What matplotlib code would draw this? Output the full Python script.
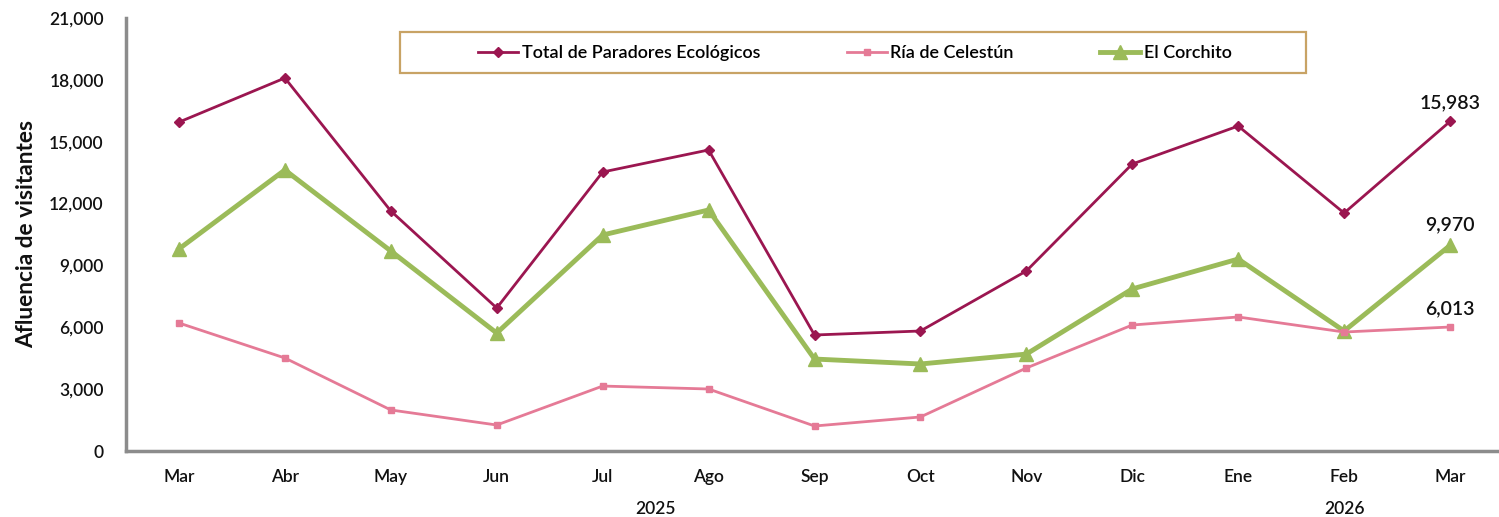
import matplotlib
matplotlib.use("Agg")
import matplotlib.pyplot as plt
from matplotlib.ticker import FuncFormatter, MultipleLocator
from matplotlib.patches import Rectangle

plt.rcParams['font.family'] = ['Lato', 'DejaVu Sans']

months = ["Mar", "Abr", "May", "Jun", "Jul", "Ago", "Sep", "Oct", "Nov", "Dic", "Ene", "Feb", "Mar"]
years = ["2025", "2026"]
total = [15950, 18090, 11640, 6935, 13530, 14600, 5626, 5820, 8730, 13920, 15760, 11540, 15983]
ria = [6208, 4510, 1990, 1260, 3150, 3007, 1212, 1650, 4025, 6110, 6500, 5770, 6013]
corchito = [9800, 13630, 9700, 5720, 10475, 11690, 4460, 4220, 4700, 7860, 9310, 5820, 9970]
series_names = ["Total de Paradores Ecológicos", "Ría de Celestún", "El Corchito"]

c_total = "#9B1650"
c_ria = "#E57A96"
c_cor = "#9BBB59"

fig = plt.figure(figsize=(14.99, 5.17), dpi=100)
W, H = 1499, 517
ax = fig.add_axes([126 / W, 1 - 451 / H, (1503 - 126) / W, (451 - 18) / H])

x = list(range(len(months)))
ax.plot(x, total, color=c_total, lw=2, marker="D", ms=5.5, label=series_names[0], zorder=3)
ax.plot(x, ria, color=c_ria, lw=2, marker="s", ms=5, label=series_names[1], zorder=3)
ax.plot(x, corchito, color=c_cor, lw=3.5, marker="^", ms=10, label=series_names[2], zorder=2)

ax.set_xlim(-0.5, len(months) - 0.5)
ax.set_ylim(0, 21000)
ax.yaxis.set_major_locator(MultipleLocator(3000))
ax.yaxis.set_major_formatter(FuncFormatter(lambda v, p: f"{int(v):,}"))
ax.set_xticks(x)
ax.set_xticklabels(months)
ax.tick_params(axis='both', length=0, labelsize=12.5, colors="#111111")
ax.tick_params(axis='x', pad=13)
ax.tick_params(axis='y', pad=16)
for lbl in ax.get_xticklabels() + ax.get_yticklabels():
    lbl.set_fontweight("semibold")

for s in ["top", "right"]:
    ax.spines[s].set_visible(False)
for s in ["left", "bottom"]:
    ax.spines[s].set_color("#8C8C8C")
    ax.spines[s].set_linewidth(2.5)

ax.set_ylabel("Afluencia de visitantes", fontsize=16.3, fontweight="bold", color="#111111", labelpad=9)

# year labels
ax.text(4.5, -0.135, years[0], transform=ax.get_xaxis_transform(), ha="center", va="center",
        fontsize=12.5, fontweight="semibold", color="#111111")
ax.text(11, -0.135, years[1], transform=ax.get_xaxis_transform(), ha="center", va="center",
        fontsize=12.5, fontweight="semibold", color="#111111")

# end labels
last = len(months) - 1
for vals, dy in [(total, 7), (corchito, 9), (ria, 7)]:
    ax.annotate(f"{vals[last]:,}", (last, vals[last]), xytext=(0, dy), textcoords="offset points",
                ha="center", va="bottom", fontsize=14, fontweight="semibold", color="#111111")

# legend frame
fig.patches.append(Rectangle((400 / W, 1 - 73 / H), (1306 - 400) / W, (73 - 32) / H,
                             transform=fig.transFigure, fill=False, edgecolor="#C8A365",
                             linewidth=1.6, zorder=5))
leg = fig.legend(loc="center", bbox_to_anchor=(855 / W, 1 - 53 / H),
                 ncol=3, frameon=False, columnspacing=4.8,
                 handlelength=2.2, handletextpad=0.2,
                 prop={"weight": "semibold", "size": 13})

fig.savefig("out.png", dpi=100)
